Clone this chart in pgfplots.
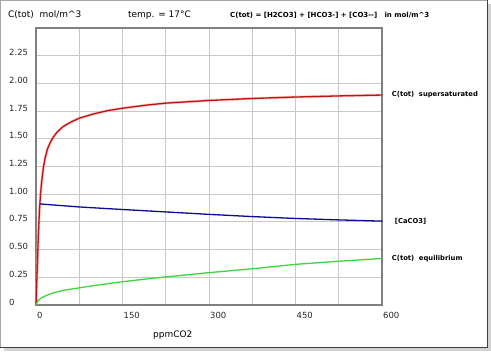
\documentclass[border=0pt]{standalone}
\usepackage{pgfplots}
\pgfplotsset{compat=1.18}
\usepackage{fontspec}
\setmainfont{DejaVu Sans}
\definecolor{gridc}{RGB}{200,200,200}
\definecolor{framec}{RGB}{128,128,128}
\definecolor{redc}{RGB}{190,20,20}
\definecolor{redhalo}{RGB}{255,150,150}
\definecolor{bluec}{RGB}{10,10,150}
\definecolor{greenc}{RGB}{60,215,60}
\begin{document}
\begin{tikzpicture}[x=1bp,y=1bp]
\useasboundingbox (0,0) rectangle (491,351);
% outer frame with shadow
\fill[gray!35] (4,0) rectangle (491,347);
\fill[white] (0,4) rectangle (487,351);
\draw[gray!70,line width=0.8bp] (0.5,4) -- (0.5,350.5) -- (487,350.5);
\draw[black!75,line width=1bp] (487,351) -- (487,4) -- (0.5,4);
\begin{axis}[
  at={(36bp,46bp)}, anchor=south west,
  scale only axis, width=346bp, height=277bp,
  xmin=0, xmax=600, ymin=0, ymax=2.5,
  xtick={0,75,...,600},
  xticklabels={0,,150,,300,,450,,600},
  ytick={0,0.25,...,2.25},
  yticklabels={0,0.25,0.50,0.75,1.00,1.25,1.50,1.75,2.00,2.25},
  major tick length=0pt,
  grid=major,
  major grid style={gridc, line width=0.9bp},
  axis line style={framec, line width=1.3bp},
  tick label style={font=\fontsize{8.5}{10}\selectfont, text=black!85},
  /pgf/number format/assume math mode=true,
  yticklabel style={anchor=west, inner sep=0pt, xshift=-27bp, yshift=3bp},
  xticklabel style={anchor=north west, inner sep=0pt, xshift=1bp, yshift=-7bp},
  clip=false,
]
\addplot[redhalo, line width=2.6bp, opacity=0.6] coordinates {
(0,0) (2,0.3) (4,0.62) (6,0.86) (8,1.01) (10,1.12) (13,1.25) (16,1.33) (20,1.41) (25,1.47) (30,1.515) (37,1.563) (47,1.61) (60,1.65) (75,1.686) (100,1.725) (125,1.755) (150,1.776) (190,1.803) (225,1.822) (300,1.846) (375,1.864) (450,1.877) (525,1.887) (600,1.895)};
\addplot[redc, line width=1.3bp] coordinates {
(0,0) (2,0.3) (4,0.62) (6,0.86) (8,1.01) (10,1.12) (13,1.25) (16,1.33) (20,1.41) (25,1.47) (30,1.515) (37,1.563) (47,1.61) (60,1.65) (75,1.686) (100,1.725) (125,1.755) (150,1.776) (190,1.803) (225,1.822) (300,1.846) (375,1.864) (450,1.877) (525,1.887) (600,1.895)}
 node[pos=1, anchor=west, xshift=6bp, text=black, font=\fontsize{6.8}{8}\selectfont\bfseries] {C(tot)\ \ supersaturated};
\addplot[bluec, line width=1.3bp] coordinates {
(7,0.912) (75,0.885) (150,0.862) (225,0.84) (300,0.818) (375,0.798) (450,0.781) (525,0.768) (600,0.757)}
 node[pos=1, anchor=west, xshift=9bp, text=black, font=\fontsize{6.8}{8}\selectfont\bfseries] {[CaCO3]};
\addplot[greenc, line width=1.3bp] coordinates {
(0,0) (3,0.035) (8,0.06) (15,0.08) (30,0.11) (50,0.135) (75,0.155) (100,0.175) (150,0.21) (200,0.24) (300,0.292) (375,0.327) (450,0.367) (525,0.395) (600,0.42)}
 node[pos=1, anchor=west, xshift=6bp, text=black, font=\fontsize{6.8}{8}\selectfont\bfseries] {C(tot)\ \ equilibrium};
\end{axis}
\node[anchor=west, inner sep=0pt, font=\fontsize{9}{10}\selectfont] at (8,336) {C(tot)\ \ mol/m\^{}3};
\node[anchor=west, inner sep=0pt, font=\fontsize{9}{10}\selectfont] at (128,336) {temp. = 17°C};
\node[anchor=west, inner sep=0pt, font=\fontsize{7}{8}\selectfont\bfseries] at (230,336) {C(tot) = [H2CO3] + [HCO3-] + [CO3-{}-]\ \ \ in mol/m\^{}3};
\node[anchor=west, inner sep=0pt, font=\fontsize{9}{10}\selectfont] at (153,16) {ppmCO2};
\end{tikzpicture}
\end{document}
